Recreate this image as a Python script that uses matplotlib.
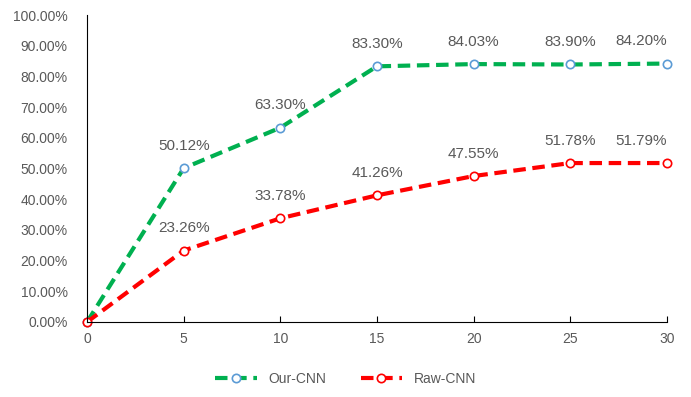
import matplotlib.pyplot as plt
from matplotlib.ticker import FuncFormatter

plt.rcParams['font.family'] = ['Liberation Sans', 'DejaVu Sans']

epochs = [0, 5, 10, 15, 20, 25, 30]
our_cnn = [0.0, 50.12, 63.30, 83.30, 84.03, 83.90, 84.20]
raw_cnn = [0.0, 23.26, 33.78, 41.26, 47.55, 51.78, 51.79]

TEXT = "#595959"


def add_labels(ax, xs, ys):
    for i, (x, y) in enumerate(zip(xs, ys)):
        if x == 0:
            continue
        ha = "right" if i == len(xs) - 1 else "center"
        ax.annotate("%.2f%%" % y, (x, y), xytext=(0, 11), textcoords="offset points",
                    ha=ha, va="bottom", fontsize=11, color=TEXT)


fig = plt.figure(figsize=(6.91, 3.97), dpi=100)
ax = fig.add_axes([0.126, 0.189, 0.839, 0.773])

ax.plot(epochs, our_cnn, color="#00B050", lw=3, ls=(0, (3, 1.6)), marker="o",
        ms=6, mfc="white", mec="#5B9BD5", mew=1.2, label="Our-CNN")
ax.plot(epochs, raw_cnn, color="#FF0000", lw=3, ls=(0, (3, 1.6)), marker="o",
        ms=6, mfc="white", mec="#FF0000", mew=1.2, label="Raw-CNN")

add_labels(ax, epochs, our_cnn)
add_labels(ax, epochs, raw_cnn)

ax.set_xlim(0, 30)
ax.set_ylim(0, 100)
ax.set_xticks(range(0, 31, 5))
ax.set_yticks(range(0, 101, 10))
ax.yaxis.set_major_formatter(FuncFormatter(lambda v, p: "%.2f%%" % v))

for s in ["top", "right"]:
    ax.spines[s].set_visible(False)
ax.spines["left"].set_color("black")
ax.spines["bottom"].set_color("black")
ax.tick_params(axis="y", length=0, pad=14, labelsize=10, labelcolor=TEXT)
ax.tick_params(axis="x", direction="in", length=4, pad=7, labelsize=10, labelcolor=TEXT)
for line in ax.lines:
    line.set_clip_on(False)

fig.legend(loc="center", bbox_to_anchor=(0.5, 0.045), ncol=2, frameon=False,
           fontsize=10, labelcolor=TEXT, handlelength=3, columnspacing=2.5)

fig.savefig("out.png", dpi=100)
